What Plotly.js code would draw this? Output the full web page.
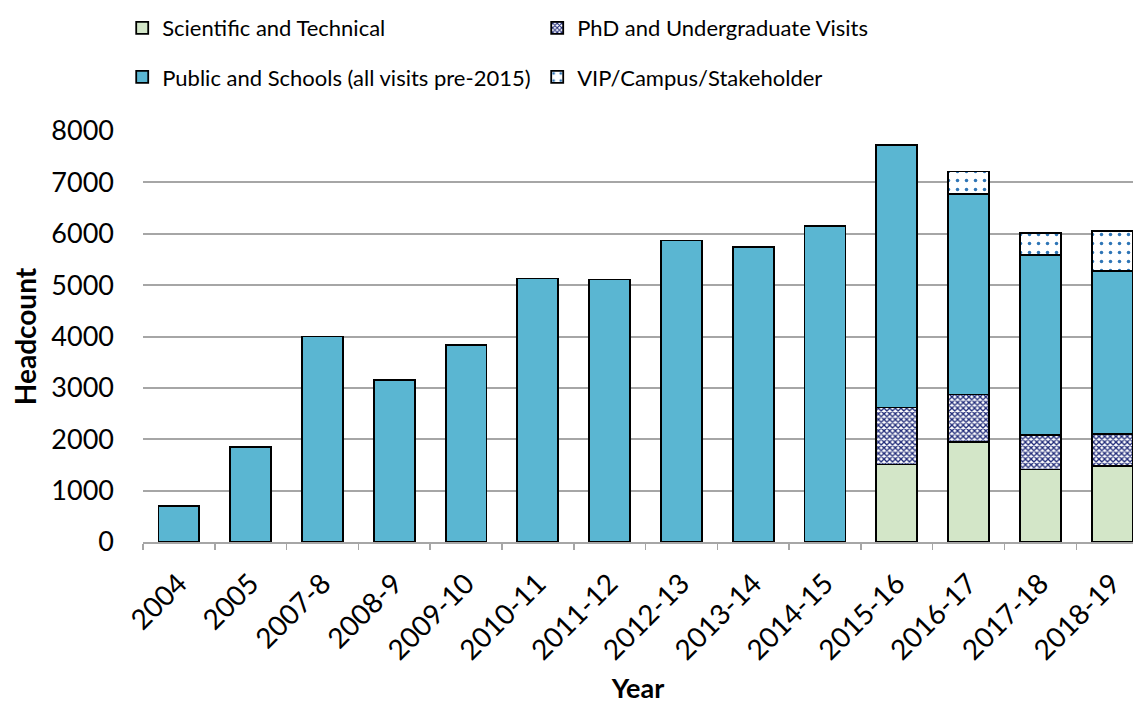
<!DOCTYPE html>
<html>
<head>
<meta charset="utf-8">
<script src="https://cdn.plot.ly/plotly-3.0.1.min.js"></script>
<style>
html,body{margin:0;padding:0;background:#fff;overflow:hidden;}
#chart{width:1136px;height:704px;}
</style>
</head>
<body>
<div id="chart"></div>
<script>
var years = ['2004','2005','2007-8','2008-9','2009-10','2010-11','2011-12','2012-13','2013-14','2014-15','2015-16','2016-17','2017-18','2018-19'];
var sciTech = [null,null,null,null,null,null,null,null,null,null,1510,1950,1410,1475];
var phdUg   = [null,null,null,null,null,null,null,null,null,null,1110,920,670,635];
var publicSchools = [700,1850,4000,3150,3830,5130,5110,5870,5740,6150,5100,3900,3500,3160];
var vipCampus = [null,null,null,null,null,null,null,null,null,null,null,440,430,790];

var FONT = 'Lato, "Liberation Sans", sans-serif';
var edge = {color:'#000', width:1.8};

var traces = [
  {type:'bar', name:'Scientific and Technical', x:years, y:sciTech, legend:'legend',
   marker:{color:'#D3E6C8', line:edge}},
  {type:'bar', name:'PhD and Undergraduate Visits', x:years, y:phdUg, legend:'legend',
   marker:{color:'#FFFFFF', line:edge,
     pattern:{shape:'x', fgcolor:'#1F2A78', bgcolor:'#FFFFFF', size:4, solidity:0.55, fillmode:'replace'}}},
  {type:'bar', name:'Public and Schools (all visits pre-2015)', x:years, y:publicSchools, legend:'legend2',
   marker:{color:'#5AB6D2', line:edge}},
  {type:'bar', name:'VIP/Campus/Stakeholder', x:years, y:vipCampus, legend:'legend2',
   marker:{color:'#FFFFFF', line:edge,
     pattern:{shape:'.', fgcolor:'#2E75B6', bgcolor:'#FFFFFF', size:9, solidity:0.12, fillmode:'replace'}}}
];

var legendCommon = {
  orientation:'h', xanchor:'left', yanchor:'middle', x:-0.021,
  bgcolor:'rgba(0,0,0,0)', borderwidth:0, traceorder:'normal',
  font:{family:FONT, size:22, color:'#000'},
  entrywidth:370, entrywidthmode:'pixels', itemwidth:30
};

var layout = {
  width:1136, height:704,
  margin:{l:143, r:3, t:131, b:162},
  paper_bgcolor:'#fff', plot_bgcolor:'#fff',
  barmode:'stack', bargap:0.43,
  font:{family:FONT, color:'#000'},
  showlegend:true,
  legend: Object.assign({}, legendCommon, {y:1.2506}),
  legend2: Object.assign({}, legendCommon, {y:1.131}),
  xaxis:{
    type:'category', range:[-0.5, 13.29],
    tickangle:-45, tickfont:{family:FONT, size:28, color:'#000'},
    showline:true, linecolor:'#A6A6A6', linewidth:2,
    ticks:'outside', tickson:'boundaries', ticklen:6, tickcolor:'#A6A6A6', tickwidth:1.5,
    ticklabelstandoff:12,
    showgrid:false, zeroline:false,
    title:{text:'<b>Year</b>', font:{family:FONT, size:27, color:'#000'}, standoff:14}
  },
  yaxis:{
    range:[0,8000], dtick:1000, tick0:0,
    tickfont:{family:FONT, size:27, color:'#000'},
    showgrid:true, gridcolor:'#A6A6A6', gridwidth:2,
    showline:false, zeroline:false, ticks:'', ticklabelstandoff:28,
    title:{text:'<b>Headcount</b>', font:{family:FONT, size:28, color:'#000'}, standoff:6}
  }
};

Plotly.newPlot('chart', traces, layout, {displayModeBar:false, staticPlot:true});
</script>
</body>
</html>
